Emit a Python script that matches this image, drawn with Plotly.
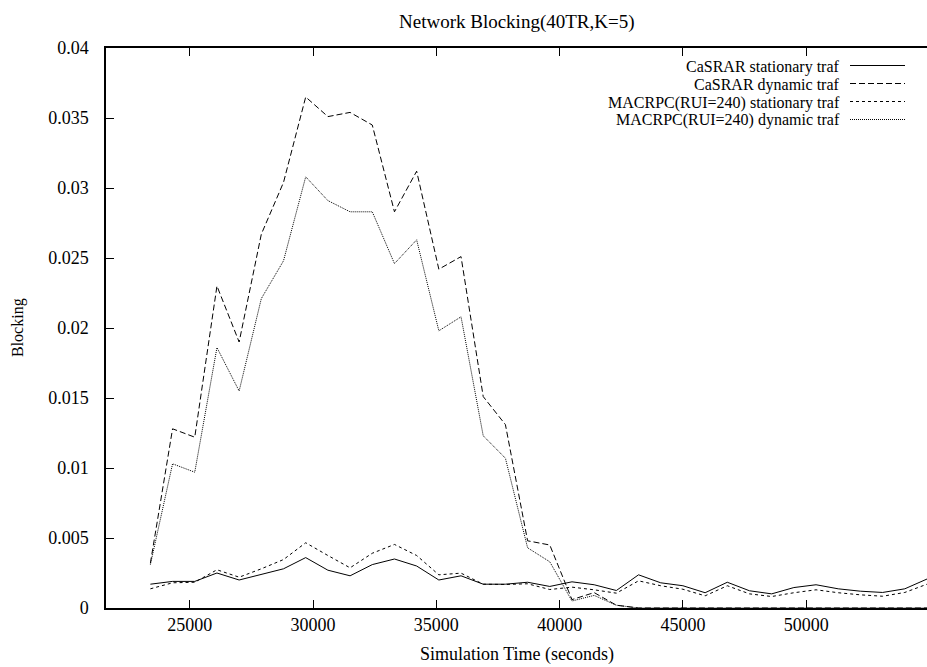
import plotly.graph_objects as go

# ---- data ----
sim_time = [23400, 24300, 25200, 26100, 27000, 27900, 28800, 29700, 30600, 31500,
            32400, 33300, 34200, 35100, 36000, 36900, 37800, 38700, 39600, 40500,
            41400, 42300, 43200, 44100, 45000, 45900, 46800, 47700, 48600, 49500,
            50400, 51300, 52200, 53100, 54000, 54900]

casrar_stationary = [0.0017, 0.0019, 0.0019, 0.0025, 0.0020, 0.0024, 0.0028, 0.0036, 0.0027, 0.0023,
                     0.0031, 0.0035, 0.0030, 0.0020, 0.0023, 0.0017, 0.0017, 0.00184, 0.00154, 0.00187,
                     0.00166, 0.00125, 0.00237, 0.0018, 0.00159, 0.00109, 0.00184, 0.00123, 0.00101, 0.00146,
                     0.00166, 0.00137, 0.0012, 0.00111, 0.00137, 0.00207]

casrar_dynamic = [0.0032, 0.0128, 0.0122, 0.0230, 0.0190, 0.0267, 0.0304, 0.0365, 0.0351, 0.0354,
                  0.0345, 0.0283, 0.0312, 0.0242, 0.0251, 0.0151, 0.0131, 0.0048, 0.0045, 0.0006,
                  0.0011, 0.0002, 0.0, 0.0, 0.0, 0.0, 0.0, 0.0, 0.0, 0.0,
                  0.0, 0.0, 0.0, 0.0, 0.0, 0.0]

macrpc_stationary = [0.00137, 0.0018, 0.00184, 0.00273, 0.0022, 0.0028, 0.00346, 0.00466, 0.00375, 0.00287,
                     0.00391, 0.00454, 0.00375, 0.00237, 0.00249, 0.0017, 0.00168, 0.00173, 0.00132, 0.00149,
                     0.0013, 0.00106, 0.00194, 0.00159, 0.00134, 0.00087, 0.00159, 0.00101, 0.00082, 0.00109,
                     0.0013, 0.00109, 0.00094, 0.00084, 0.00111, 0.0017]

macrpc_dynamic = [0.0031, 0.0103, 0.0097, 0.0186, 0.0155, 0.0221, 0.0248, 0.0308, 0.0291, 0.0283,
                  0.0283, 0.0246, 0.0263, 0.0198, 0.0208, 0.0123, 0.0107, 0.0043, 0.0033, 0.0005,
                  0.0009, 0.0002, 0.0, 0.0, 0.0, 0.0, 0.0, 0.0, 0.0, 0.0,
                  0.0, 0.0, 0.0, 0.0, 0.0, 0.0]

series_names = ["CaSRAR stationary traf", "CaSRAR dynamic traf",
                "MACRPC(RUI=240) stationary traf", "MACRPC(RUI=240) dynamic traf"]

x_tick_vals = [25000, 30000, 35000, 40000, 45000, 50000]
x_tick_text = ["25000", "30000", "35000", "40000", "45000", "50000"]
y_tick_vals = [0, 0.005, 0.01, 0.015, 0.02, 0.025, 0.03, 0.035, 0.04]
y_tick_text = ["0", "0.005", "0.01", "0.015", "0.02", "0.025", "0.03", "0.035", "0.04"]

title_text = "Network Blocking(40TR,K=5)"
x_label = "Simulation Time (seconds)"
y_label = "Blocking"

# ---- styling ----
FONT = "Liberation Serif"
FS = 18
KEY_FS = 16
W, H = 927, 667
ML, MR, MT, MB = 106, 0, 48, 59
PW, PH = W - ML - MR, H - MT - MB

styles = [
    dict(color="black", width=1, dash="solid"),
    dict(color="black", width=1, dash="6px,3px"),
    dict(color="black", width=1, dash="3px,3px"),
    dict(color="black", width=1, dash="1px,1px"),
]
all_series = [casrar_stationary, casrar_dynamic, macrpc_stationary, macrpc_dynamic]

fig = go.Figure()
for name, vals, st in zip(series_names, all_series, styles):
    fig.add_trace(go.Scatter(x=sim_time, y=vals, mode="lines", name=name,
                             line=st, showlegend=False, cliponaxis=True))

def px_to_paper_y(py):
    return (H - MB - py) / PH

def px_to_paper_x(px):
    return (px - ML) / PW

annotations = []
shapes = []
# gnuplot-style key: text right-aligned, sample line to its right
key_rows_px = [65.5, 83.5, 101.5, 119.5]
for name, st, py in zip(series_names, styles, key_rows_px):
    annotations.append(dict(text=name, xref="paper", yref="paper",
                            x=px_to_paper_x(841), y=px_to_paper_y(py + 1),
                            xanchor="right", yanchor="middle", showarrow=False,
                            borderpad=0,
                            font=dict(family=FONT, size=KEY_FS, color="black")))
    shapes.append(dict(type="line", xref="paper", yref="paper",
                       x0=px_to_paper_x(850), x1=px_to_paper_x(905),
                       y0=px_to_paper_y(py), y1=px_to_paper_y(py),
                       line=st))

annotations.append(dict(text=title_text, xref="paper", yref="paper",
                        x=0.5, y=px_to_paper_y(22), xanchor="center", yanchor="middle",
                        showarrow=False, font=dict(family=FONT, size=19, color="black")))
annotations.append(dict(text=x_label, xref="paper", yref="paper",
                        x=0.5, y=px_to_paper_y(654), xanchor="center", yanchor="middle",
                        showarrow=False, font=dict(family=FONT, size=FS, color="black")))
annotations.append(dict(text=y_label, xref="paper", yref="paper",
                        x=px_to_paper_x(18), y=0.5, xanchor="center", yanchor="middle",
                        textangle=-90, showarrow=False,
                        font=dict(family=FONT, size=16, color="black")))

fig.update_layout(
    width=W, height=H,
    margin=dict(l=ML, r=MR, t=MT, b=MB, pad=0),
    paper_bgcolor="white", plot_bgcolor="white",
    font=dict(family=FONT, size=FS, color="black"),
    showlegend=False,
    annotations=annotations,
    shapes=shapes,
    xaxis=dict(range=[21600, 54900], tickvals=x_tick_vals, ticktext=x_tick_text,
               ticks="inside", ticklen=8, tickwidth=1, tickcolor="black",
               showline=True, linecolor="black", linewidth=1.5, mirror="ticks",
               showgrid=False, zeroline=False,
               tickfont=dict(family=FONT, size=FS, color="black")),
    yaxis=dict(range=[0, 0.04], tickvals=y_tick_vals, ticktext=y_tick_text,
               ticks="inside", ticklen=8, tickwidth=1, tickcolor="black",
               showline=True, linecolor="black", linewidth=1.5, mirror=False,
               showgrid=False, zeroline=False, ticklabelstandoff=12,
               tickfont=dict(family=FONT, size=FS, color="black")),
    yaxis2=dict(overlaying="y", side="right", matches="y", range=[0, 0.04],
                tickvals=y_tick_vals, ticks="inside", ticklen=8, tickwidth=1,
                tickcolor="black", showticklabels=False, showline=False,
                showgrid=False, zeroline=False),
)

fig.write_html("out.html")
